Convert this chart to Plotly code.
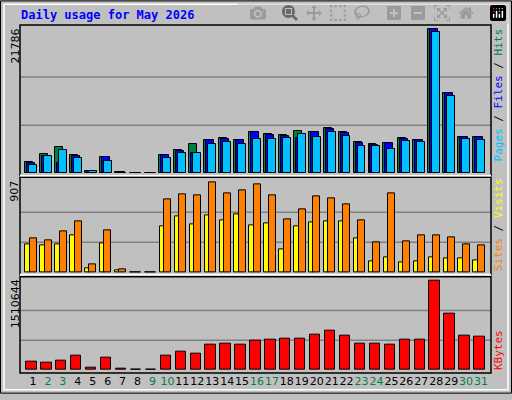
import plotly.graph_objects as go

days = list(range(1, 32))
day_labels = [str(d) for d in days]
weekend = {2, 3, 9, 10, 16, 17, 23, 24, 30, 31}

hits = [1780, 2960, 4000, 2820, 440, 2520, 150, 0, 0, 2820, 3560, 4450, 5040, 5340, 5040, 6220, 5930, 5780, 6370, 6220, 6820, 6220, 4740, 4450, 4600, 5340, 5040, 21786, 12150, 5480, 5480]
files = [1590, 2670, 1630, 2670, 440, 2520, 150, 0, 0, 2820, 3410, 3110, 5040, 5190, 5040, 6220, 5780, 5630, 5340, 6220, 6670, 6080, 4600, 4300, 4600, 5190, 5040, 21786, 12150, 5480, 5480]
pages = [1330, 2670, 3560, 2370, 300, 1930, 70, 0, 0, 2370, 3110, 3110, 4450, 4740, 4450, 5190, 5190, 5340, 5930, 5480, 6220, 5630, 4150, 4150, 3700, 4890, 4740, 21340, 11710, 5190, 5040]
sites = [276, 266, 276, 375, 39, 286, 20, 0, 0, 463, 562, 483, 572, 522, 582, 473, 493, 227, 463, 503, 513, 513, 345, 108, 148, 99, 108, 148, 138, 138, 118]
visits = [345, 325, 414, 513, 79, 424, 30, 0, 0, 739, 789, 779, 907, 798, 828, 887, 779, 532, 631, 769, 749, 690, 522, 296, 798, 306, 375, 375, 355, 276, 266]
kbytes = [137800, 121000, 154000, 237000, 38600, 204000, 22000, 0, 0, 237000, 303000, 270000, 435000, 452000, 419000, 502000, 518000, 535000, 535000, 601000, 667000, 584000, 452000, 452000, 419000, 518000, 518000, 1510644, 948000, 584000, 568000]

MAXH, MAXV, MAXK = 21786, 907, 1510644
BG = "#C0C0C0"
W, H = 512, 400
ml, mr, mt, mb = 20, 21, 25, 21
ph = H - mt - mb

def dom(y0, y1):
    return [(H - mb - y1) / ph, (H - mb - y0) / ph]

fig = go.Figure()
line = dict(color="black", width=1)
def bar(y, color, off, wid, ax):
    fig.add_trace(go.Bar(x=days, y=y, offset=off, width=wid, marker=dict(color=color, line=line),
                         xaxis="x", yaxis=ax, showlegend=False, hoverinfo="skip"))

bar(hits, "#008040", -0.53, 0.53, "y")
bar(files, "#0000FF", -0.40, 0.53, "y")
bar(pages, "#00C0FF", -0.27, 0.53, "y")
bar(sites, "#FFFF00", -0.51, 0.30, "y2")
bar(visits, "#FF8000", -0.22, 0.47, "y2")
bar(kbytes, "#FF0000", -0.45, 0.69, "y3")

ticktext = [f"<span style='color:{'#008040' if d in weekend else 'black'}'>{l}</span>" for d, l in zip(days, day_labels)]
x0 = 1 - 13 / 14.93
x1 = 31 + 10 / 14.93

fig.update_layout(
    width=W, height=H, margin=dict(l=ml, r=mr, t=mt, b=mb),
    paper_bgcolor=BG, plot_bgcolor=BG, barmode="overlay", bargap=0,
    font=dict(family="DejaVu Sans", size=11, color="black"),
    xaxis=dict(range=[x0, x1], tickvals=days, ticktext=ticktext, showgrid=False, zeroline=False,
               ticks="", tickangle=0, tickfont=dict(size=11), anchor="y3", fixedrange=True),
    yaxis=dict(domain=dom(25, 178), range=[-296, 22379], showticklabels=False, showgrid=False, zeroline=False),
    yaxis2=dict(domain=dom(180, 279), range=[-26.6, 959], showticklabels=False, showgrid=False, zeroline=False),
    yaxis3=dict(domain=dom(281, 379), range=[-0.0361 * MAXK, 1.047 * MAXK], showticklabels=False, showgrid=False, zeroline=False),
)

shapes = []
for ax, m in [("y", MAXH), ("y2", MAXV), ("y3", MAXK)]:
    for f in (1 / 3, 2 / 3):
        shapes.append(dict(type="line", xref="x", yref=ax, x0=x0, x1=x1, y0=m * f, y1=m * f,
                           line=dict(color="#808080", width=1.5), layer="below"))
for ax in ("y", "y2", "y3"):
    shapes.append(dict(type="rect", xref="x domain", yref=f"{ax} domain", x0=0, x1=1, y0=0, y1=1,
                       line=dict(color="black", width=1.5)))
for ax in ("y", "y2"):
    shapes.append(dict(type="line", xref="x domain", yref=f"{ax} domain", x0=0, x1=1, y0=0, y1=0,
                       line=dict(color="white", width=2)))
pw = W - ml - mr
def px(x): return (x - ml) / pw
def py(y): return (H - mb - y) / ph
shapes.append(dict(type="rect", xref="paper", yref="paper", x0=px(0.5), x1=px(W - 0.5), y0=py(H - 0.5), y1=py(0.5),
                   line=dict(color="black", width=1)))
shapes.append(dict(type="rect", xref="paper", yref="paper", x0=px(4), x1=px(W - 4), y0=py(H - 4), y1=py(4),
                   line=dict(color="white", width=1.5)))
fig.update_layout(shapes=shapes)

ann = []
ann.append(dict(text="<b>Daily usage for May 2026</b>", xref="paper", yref="paper", x=px(19), y=py(15),
                xanchor="left", yanchor="middle", showarrow=False,
                font=dict(family="DejaVu Sans Mono", size=12, color="#0000FF")))
for val, top in [(MAXH, 27), (MAXV, 182), (MAXK, 282)]:
    ann.append(dict(text=str(val), textangle=-90, xref="paper", yref="paper", x=px(15), y=py(top),
                    xanchor="center", yanchor="top", showarrow=False, font=dict(size=11)))
mono = dict(family="DejaVu Sans Mono", size=11)
ann.append(dict(text="<span style='color:#00C0FF'>Pages</span> / <span style='color:#0000FF'>Files</span> / <span style='color:#008040'>Hits</span>",
                textangle=-90, xref="paper", yref="paper", x=px(498), y=py(27), xanchor="center", yanchor="top",
                showarrow=False, font=mono))
ann.append(dict(text="<span style='color:#FF8000'>Sites</span> / <span style='color:#FFFF00'>Visits</span>",
                textangle=-90, xref="paper", yref="paper", x=px(498), y=py(278), xanchor="center", yanchor="bottom",
                showarrow=False, font=mono))
ann.append(dict(text="<span style='color:#FF0000'>KBytes</span>",
                textangle=-90, xref="paper", yref="paper", x=px(498), y=py(378), xanchor="center", yanchor="bottom",
                showarrow=False, font=mono))
fig.update_layout(annotations=ann)

fig.write_html("out.html")
with open("out.html", encoding="utf-8") as fh:
    html = fh.read()
html = html.replace("<head>", "<head><style>html,body{margin:0;padding:0;overflow:hidden}</style>", 1)
with open("out.html", "w", encoding="utf-8") as fh:
    fh.write(html)
